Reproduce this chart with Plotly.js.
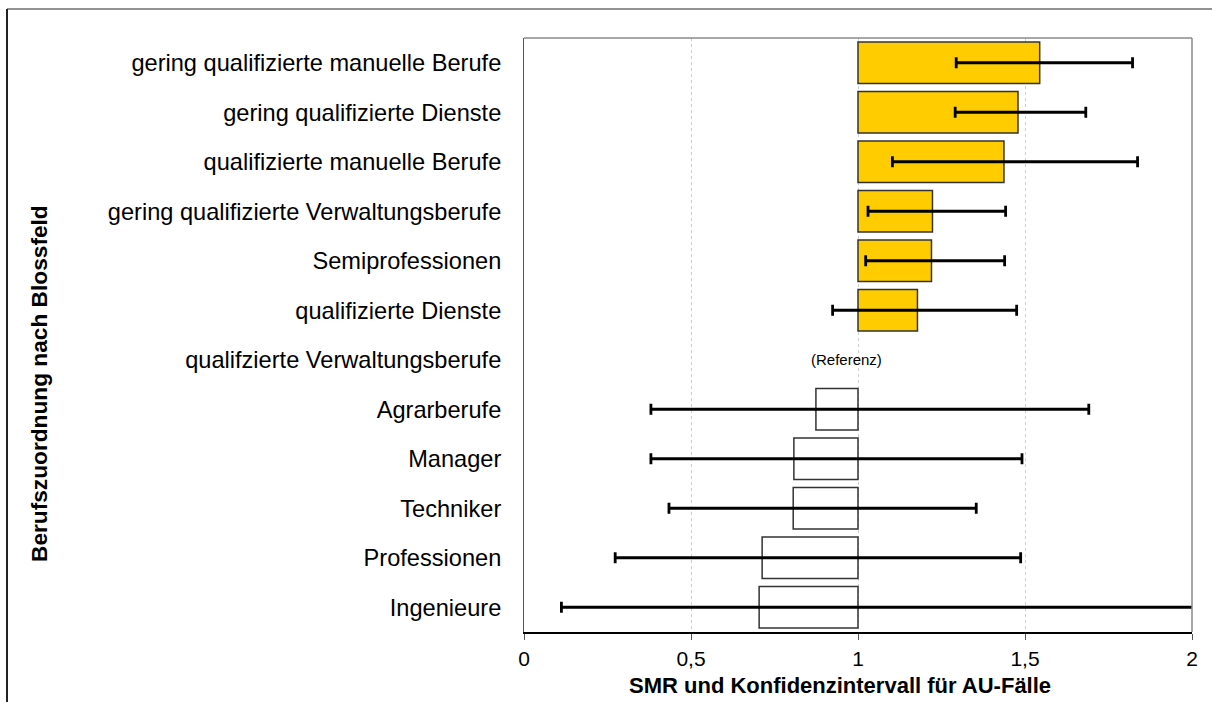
<!DOCTYPE html>
<html>
<head>
<meta charset="utf-8">
<script src="https://cdn.plot.ly/plotly-3.0.1.min.js"></script>
<style>
  html, body { margin: 0; padding: 0; background: #ffffff; }
  #chart { width: 1212px; height: 702px; }
</style>
</head>
<body>
<div id="chart"></div>
<script>
// ---- data ----
var categories = [
  "gering qualifizierte manuelle Berufe",
  "gering qualifizierte Dienste",
  "qualifizierte manuelle Berufe",
  "gering qualifizierte Verwaltungsberufe",
  "Semiprofessionen",
  "qualifizierte Dienste",
  "qualifzierte Verwaltungsberufe",
  "Agrarberufe",
  "Manager",
  "Techniker",
  "Professionen",
  "Ingenieure"
];
var smr    = [1.544, 1.479, 1.437, 1.223, 1.220, 1.178, null, 0.874, 0.808, 0.806, 0.713, 0.704];
var ciLow  = [1.294, 1.291, 1.103, 1.030, 1.023, 0.924, null, 0.380, 0.380, 0.434, 0.273, 0.112];
var ciHigh = [1.822, 1.682, 1.837, 1.442, 1.439, 1.475, null, 1.691, 1.491, 1.354, 1.487, 2.300];
var referenceValue = 1;
var referenceCategory = "qualifzierte Verwaltungsberufe";
var referenceNote = "(Referenz)";
var xTickVals = [0, 0.5, 1, 1.5, 2];
var xTitle = "SMR und Konfidenzintervall für AU-Fälle";
var yTitle = "Berufszuordnung nach Blossfeld";

// ---- derived for the library ----
var barBase = smr.map(function (v) { return v === null ? null : Math.min(v, referenceValue); });
var barLen  = smr.map(function (v) { return v === null ? null : Math.abs(v - referenceValue); });
var barFill = smr.map(function (v) { return (v !== null && v > referenceValue) ? "#FFCC00" : "#FFFFFF"; });
var errPlus  = smr.map(function (v, i) { return v === null ? null : ciHigh[i] - v; });
var errMinus = smr.map(function (v, i) { return v === null ? null : v - ciLow[i]; });

var FONT = "Liberation Sans, Arial, Helvetica, sans-serif";

var bars = {
  type: "bar",
  orientation: "h",
  y: categories,
  x: barLen,
  base: barBase,
  marker: { color: barFill, line: { color: "#333333", width: 1.5 } },
  hoverinfo: "skip",
  showlegend: false
};

var errs = {
  type: "scatter",
  mode: "markers",
  y: categories,
  x: smr,
  marker: { size: 1, color: "rgba(0,0,0,0)" },
  error_x: {
    type: "data",
    symmetric: false,
    array: errPlus,
    arrayminus: errMinus,
    color: "#000000",
    thickness: 2.8,
    width: 5.5
  },
  hoverinfo: "skip",
  showlegend: false
};

// pixel helpers for paper coordinates
var L = 524, R = 1192, T = 38, B = 632;
function px(x) { return (x - L) / (R - L); }
function py(y) { return (B - y) / (B - T); }

var layout = {
  width: 1212,
  height: 702,
  margin: { l: L, r: 1212 - R, t: T, b: 702 - B, pad: 0 },
  paper_bgcolor: "#ffffff",
  plot_bgcolor: "#ffffff",
  separators: ",.",
  font: { family: FONT, color: "#000000", size: 22 },
  bargap: 0.165,
  xaxis: {
    range: [0, 2],
    tickvals: xTickVals,
    showgrid: true,
    gridcolor: "#cfcfcf",
    griddash: "dot",
    gridwidth: 1,
    zeroline: false,
    showline: true,
    linecolor: "#000000",
    linewidth: 1.5,
    ticks: "outside",
    ticklen: 6,
    tickwidth: 1,
    tickcolor: "#555555",
    ticklabelstandoff: 1,
    tickfont: { family: FONT, size: 21, color: "#000000" },
    fixedrange: true
  },
  yaxis: {
    type: "category",
    range: [categories.length - 0.5, -0.5],
    autorange: false,
    showgrid: false,
    zeroline: false,
    showline: true,
    linecolor: "#555555",
    linewidth: 1,
    ticks: "",
    ticklabelstandoff: 17,
    tickfont: { family: FONT, size: 23.6, color: "#000000" },
    fixedrange: true
  },
  shapes: [
    { type: "line", xref: "paper", yref: "paper", x0: 0, x1: 1, y0: 1, y1: 1, line: { color: "#8a8a8a", width: 1.5 } },
    { type: "line", xref: "paper", yref: "paper", x0: 1, x1: 1, y0: 0, y1: 1, line: { color: "#8a8a8a", width: 1.5 } },
    { type: "line", xref: "paper", yref: "paper", x0: px(7), x1: px(1213), y0: py(9), y1: py(9), line: { color: "#6e6e6e", width: 1.5 } },
    { type: "line", xref: "paper", yref: "paper", x0: px(7), x1: px(7), y0: py(9), y1: py(703), line: { color: "#222222", width: 2 } }
  ],
  annotations: [
    {
      text: referenceNote, x: 0.967, y: referenceCategory, xref: "x", yref: "y",
      showarrow: false, xanchor: "center", yanchor: "middle",
      font: { family: FONT, size: 15, color: "#000000" }
    },
    {
      text: "<b>" + xTitle + "</b>", xref: "paper", yref: "paper",
      x: px(840), y: py(685), xanchor: "center", yanchor: "middle", showarrow: false,
      font: { family: FONT, size: 22, color: "#000000" }
    },
    {
      text: "<b>" + yTitle + "</b>", xref: "paper", yref: "paper",
      x: px(39), y: py(384), xanchor: "center", yanchor: "middle", showarrow: false,
      textangle: -90,
      font: { family: FONT, size: 22.7, color: "#000000" }
    }
  ]
};

Plotly.newPlot("chart", [bars, errs], layout, { staticPlot: true, displayModeBar: false });
</script>
</body>
</html>
